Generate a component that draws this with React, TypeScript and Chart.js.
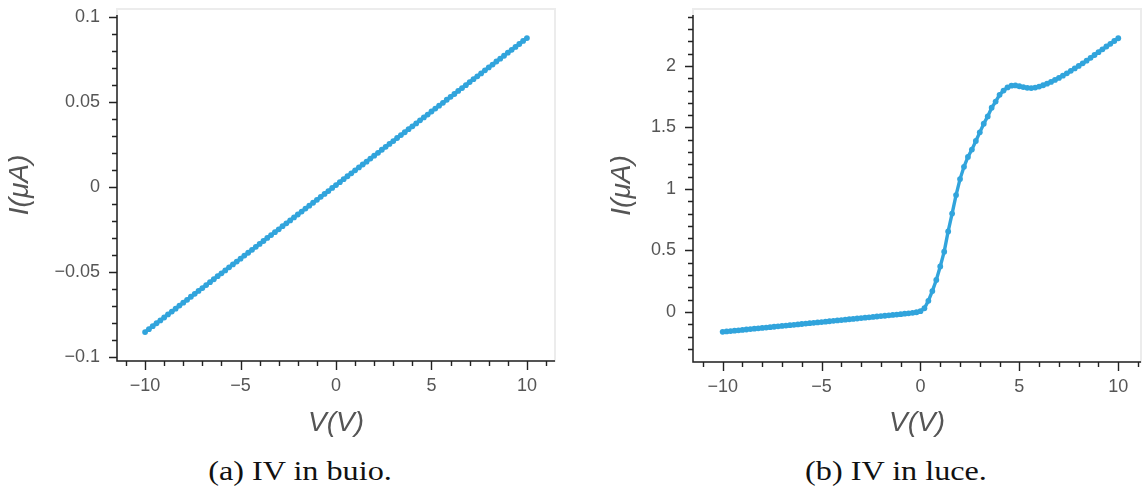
import React, { useEffect, useRef } from "react";
import { Chart, registerables } from "chart.js";

Chart.register(...registerables);

// ---- data ----
const V_SWEEP = [
  -10, -9.8, -9.6, -9.4, -9.2, -9, -8.8, -8.6, -8.4, -8.2,
  -8, -7.8, -7.6, -7.4, -7.2, -7, -6.8, -6.6, -6.4, -6.2,
  -6, -5.8, -5.6, -5.4, -5.2, -5, -4.8, -4.6, -4.4, -4.2,
  -4, -3.8, -3.6, -3.4, -3.2, -3, -2.8, -2.6, -2.4, -2.2,
  -2, -1.8, -1.6, -1.4, -1.2, -1, -0.8, -0.6, -0.4, -0.2,
  0,
  0.2, 0.4, 0.6, 0.8, 1, 1.2, 1.4, 1.6, 1.8, 2,
  2.2, 2.4, 2.6, 2.8, 3, 3.2, 3.4, 3.6, 3.8, 4,
  4.2, 4.4, 4.6, 4.8, 5, 5.2, 5.4, 5.6, 5.8, 6,
  6.2, 6.4, 6.6, 6.8, 7, 7.2, 7.4, 7.6, 7.8, 8,
  8.2, 8.4, 8.6, 8.8, 9, 9.2, 9.4, 9.6, 9.8, 10,
];

const I_DARK = [
  -0.0854, -0.0837, -0.0819, -0.0802, -0.0785, -0.0768, -0.075, -0.0733, -0.0716, -0.0698,
  -0.0681, -0.0664, -0.0646, -0.0629, -0.0612, -0.0595, -0.0577, -0.056, -0.0543, -0.0525,
  -0.0508, -0.0491, -0.0473, -0.0456, -0.0439, -0.0422, -0.0404, -0.0387, -0.037, -0.0352,
  -0.0335, -0.0318, -0.03, -0.0283, -0.0266, -0.0249, -0.0231, -0.0214, -0.0197, -0.0179,
  -0.0162, -0.0145, -0.0127, -0.011, -0.0093, -0.0076, -0.0058, -0.0041, -0.0024, -0.0006,
  0.0011,
  0.0028, 0.0046, 0.0063, 0.008, 0.0098, 0.0115, 0.0132, 0.0149, 0.0167, 0.0184,
  0.0201, 0.0219, 0.0236, 0.0253, 0.027, 0.0288, 0.0305, 0.0322, 0.034, 0.0357,
  0.0374, 0.0392, 0.0409, 0.0426, 0.0444, 0.0461, 0.0478, 0.0495, 0.0513, 0.053,
  0.0547, 0.0565, 0.0582, 0.0599, 0.0617, 0.0634, 0.0651, 0.0668, 0.0686, 0.0703,
  0.072, 0.0738, 0.0755, 0.0772, 0.079, 0.0807, 0.0824, 0.0841, 0.0859, 0.0876,
];

const I_LIGHT = [
  -0.162, -0.1588, -0.1556, -0.1524, -0.1492, -0.146, -0.1428, -0.1396, -0.1364, -0.1332,
  -0.13, -0.1268, -0.1236, -0.1204, -0.1172, -0.114, -0.1108, -0.1076, -0.1044, -0.1012,
  -0.098, -0.0948, -0.0916, -0.0884, -0.0852, -0.082, -0.0788, -0.0756, -0.0724, -0.0692,
  -0.066, -0.0628, -0.0596, -0.0564, -0.0532, -0.05, -0.0468, -0.0436, -0.0404, -0.0372,
  -0.034, -0.0308, -0.0276, -0.0244, -0.0212, -0.018, -0.0145, -0.011, -0.0072, -0.0025,
  0.006,
  0.03, 0.09, 0.17, 0.26, 0.37, 0.49, 0.655, 0.8, 0.95, 1.08,
  1.18, 1.26, 1.32, 1.39, 1.46, 1.53, 1.59, 1.66, 1.71, 1.765,
  1.8, 1.825, 1.84, 1.842, 1.835, 1.828, 1.822, 1.82, 1.824, 1.832,
  1.843, 1.856, 1.87, 1.886, 1.903, 1.921, 1.94, 1.96, 1.98, 2.0,
  2.021, 2.043, 2.066, 2.089, 2.112, 2.135, 2.158, 2.18, 2.203, 2.225,
];

const X_TICKS = [-10, -5, 0, 5, 10];
const Y_TICKS_DARK = [-0.1, -0.05, 0, 0.05, 0.1];
const Y_TICKS_LIGHT = [0, 0.5, 1, 1.5, 2];

const CAPTION_DARK = "(a) IV in buio.";
const CAPTION_LIGHT = "(b) IV in luce.";
const X_TITLE = "V(V)";
const Y_TITLE = "I(\u03bcA)";

// ---- styling ----
const LINE_COLOR = "#31a4dc";
const TEXT_COLOR = "#555555";
const SPINE_COLOR = "#222222";
const FRAME_COLOR = "#ececec";
const SANS = "'Liberation Sans', Arial, sans-serif";

const fmt = (v: number) => String(Math.round(v * 1000) / 1000).replace("-", "\u2212");

function axesPlugin(xMinorStep: number, yMinorStep: number) {
  return {
    id: "mplAxes",
    beforeDatasetsDraw(chart: any) {
      const { ctx, chartArea } = chart;
      const { left, right, top, bottom } = chartArea;
      ctx.save();
      ctx.strokeStyle = FRAME_COLOR;
      ctx.lineWidth = 2;
      ctx.strokeRect(left, top, right - left, bottom - top);
      ctx.restore();
    },
    afterDraw(chart: any) {
      const { ctx, chartArea, scales } = chart;
      const { left, right, top, bottom } = chartArea;
      const xs = scales.x;
      const ys = scales.y;
      ctx.save();
      ctx.strokeStyle = SPINE_COLOR;
      ctx.lineWidth = 1.5;
      ctx.beginPath();
      ctx.moveTo(left, top + 6);
      ctx.lineTo(left, bottom);
      ctx.lineTo(right, bottom);
      ctx.stroke();

      ctx.lineWidth = 1.4;
      ctx.beginPath();
      const k0 = Math.ceil(xs.min / xMinorStep - 1e-9);
      const k1 = Math.floor(xs.max / xMinorStep + 1e-9);
      for (let k = k0; k <= k1; k++) {
        const px = Math.round(xs.getPixelForValue(k * xMinorStep)) + 0.5;
        const len = k % 5 === 0 ? 9 : 5;
        ctx.moveTo(px, bottom);
        ctx.lineTo(px, bottom + len);
      }
      const j0 = Math.ceil(ys.min / yMinorStep - 1e-9);
      const j1 = Math.floor(ys.max / yMinorStep + 1e-9);
      for (let j = j0; j <= j1; j++) {
        const py = Math.round(ys.getPixelForValue(j * yMinorStep)) + 0.5;
        if (py > bottom - 3 || py < top + 6) continue;
        const len = j % 5 === 0 ? 8 : 5;
        ctx.moveTo(left, py);
        ctx.lineTo(left - len, py);
      }
      ctx.stroke();
      ctx.restore();
    },
  };
}

type PanelProps = {
  left: number;
  width: number;
  height: number;
  yAxisWidth: number;
  xAxisHeight: number;
  padRight: number;
  xMin: number;
  xMax: number;
  yMin: number;
  yMax: number;
  yTicks: number[];
  yMinorStep: number;
  values: number[];
  yTitlePad: number;
};

function Panel(p: PanelProps) {
  const ref = useRef<HTMLCanvasElement>(null);
  useEffect(() => {
    const canvas = ref.current;
    if (!canvas) return;
    const chart = new Chart(canvas, {
      type: "line",
      data: {
        datasets: [
          {
            data: V_SWEEP.map((v, i) => ({ x: v, y: p.values[i] })),
            borderColor: LINE_COLOR,
            backgroundColor: LINE_COLOR,
            borderWidth: 3.4,
            pointRadius: 2.9,
            pointBorderWidth: 0,
            pointBackgroundColor: LINE_COLOR,
            tension: 0,
            fill: false,
          },
        ],
      },
      options: {
        responsive: false,
        animation: false,
        devicePixelRatio: 1,
        layout: { padding: { left: 0, top: 9, right: p.padRight, bottom: 0 } },
        plugins: { legend: { display: false }, tooltip: { enabled: false } },
        events: [],
        scales: {
          x: {
            type: "linear",
            min: p.xMin,
            max: p.xMax,
            afterBuildTicks: (axis: any) => {
              axis.ticks = X_TICKS.map((v) => ({ value: v }));
            },
            afterFit: (axis: any) => {
              axis.height = p.xAxisHeight;
              axis.paddingLeft = 0;
              axis.paddingRight = 0;
            },
            ticks: {
              autoSkip: false,
              maxRotation: 0,
              padding: 14,
              color: TEXT_COLOR,
              font: { family: SANS, size: 18 },
              callback: (v: any) => fmt(Number(v)),
            },
            grid: { display: false, drawTicks: false },
            border: { display: false },
            title: {
              display: true,
              text: X_TITLE,
              color: TEXT_COLOR,
              font: { family: SANS, size: 28, style: "italic" },
              padding: { top: 0, bottom: 5 },
            },
          },
          y: {
            type: "linear",
            min: p.yMin,
            max: p.yMax,
            afterBuildTicks: (axis: any) => {
              axis.ticks = p.yTicks.map((v) => ({ value: v }));
            },
            afterFit: (axis: any) => {
              axis.width = p.yAxisWidth;
              axis.paddingTop = 0;
              axis.paddingBottom = 0;
            },
            ticks: {
              autoSkip: false,
              padding: 17,
              color: TEXT_COLOR,
              font: { family: SANS, size: 18 },
              callback: (v: any) => fmt(Number(v)),
            },
            grid: { display: false, drawTicks: false },
            border: { display: false },
            title: {
              display: true,
              text: Y_TITLE,
              color: TEXT_COLOR,
              font: { family: SANS, size: 28, style: "italic" },
              padding: { top: p.yTitlePad, bottom: 0 },
            },
          },
        },
      },
      plugins: [axesPlugin(1, p.yMinorStep)],
    } as any);
    return () => chart.destroy();
  }, []);
  return (
    <canvas
      ref={ref}
      width={p.width}
      height={p.height}
      style={{ position: "absolute", left: p.left, top: 0, width: p.width, height: p.height }}
    />
  );
}

const captionStyle = (cx: number): React.CSSProperties => ({
  position: "absolute",
  left: cx,
  top: 457,
  transform: "translateX(-50%) scaleX(1.15)",
  fontFamily: "'Liberation Serif', 'Times New Roman', serif",
  fontSize: 28,
  lineHeight: "28px",
  color: "#111",
  whiteSpace: "nowrap",
});

export default function App() {
  return (
    <div
      style={{
        position: "fixed",
        left: 0,
        top: 0,
        width: 1145,
        height: 491,
        overflow: "hidden",
        background: "#ffffff",
      }}
    >
      <Panel
        left={0}
        width={570}
        height={445}
        yAxisWidth={117}
        xAxisHeight={84}
        padRight={15}
        xMin={-11.47}
        xMax={11.47}
        yMin={-0.1024}
        yMax={0.1047}
        yTicks={Y_TICKS_DARK}
        yMinorStep={0.01}
        values={I_DARK}
        yTitlePad={3}
      />
      <Panel
        left={580}
        width={565}
        height={445}
        yAxisWidth={113}
        xAxisHeight={83}
        padRight={0}
        xMin={-11.5}
        xMax={11.15}
        yMin={-0.407}
        yMax={2.463}
        yTicks={Y_TICKS_LIGHT}
        yMinorStep={0.1}
        values={I_LIGHT}
        yTitlePad={25}
      />
      <div style={captionStyle(300)}>{CAPTION_DARK}</div>
      <div style={captionStyle(896)}>{CAPTION_LIGHT}</div>
    </div>
  );
}
